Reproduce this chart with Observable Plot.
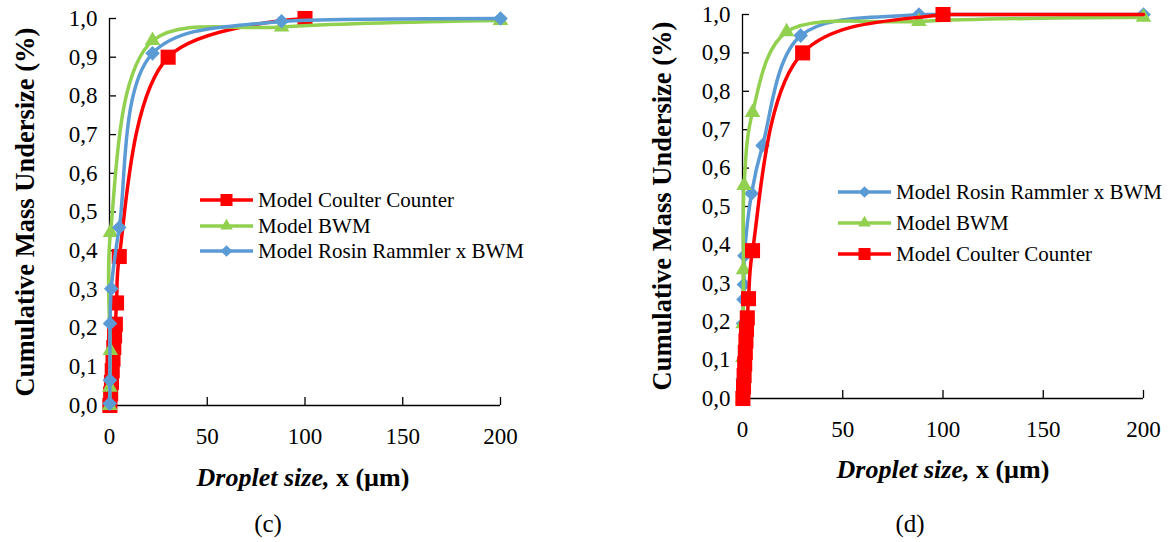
<!DOCTYPE html>
<html>
<head>
<meta charset="utf-8">
<script src="https://cdn.jsdelivr.net/npm/d3@7"></script>
<script src="https://cdn.jsdelivr.net/npm/@observablehq/plot@0.6"></script>
<style>
  html, body { margin: 0; padding: 0; background: #fff; }
  body { width: 1174px; height: 542px; position: relative; overflow: hidden; font-family: 'Liberation Serif', 'Times New Roman', Times, serif; color: #000; }
  .abs { position: absolute; }
  .ytitle { font-weight: bold; font-size: 26.5px; white-space: nowrap; transform: translate(-50%, -50%) rotate(-90deg); }
  .xtitle { font-weight: bold; font-size: 26px; white-space: nowrap; transform: translate(-50%, -50%); }
  .plabel { font-size: 25px; transform: translate(-50%, -50%); }
  .legrow { position: absolute; display: flex; align-items: center; font-size: 21px; white-space: nowrap; }
  .legrow svg { margin-right: 5px; overflow: visible; }
  svg text { font-family: 'Liberation Serif', 'Times New Roman', Times, serif; }
</style>
</head>
<body>
<script>
// ---------- data ----------
const xTicks = [0, 50, 100, 150, 200];
const yTicks = [0, 0.1, 0.2, 0.3, 0.4, 0.5, 0.6, 0.7, 0.8, 0.9, 1.0];

// panel (c)
const c_red_x   = [0.2, 0.6, 1.0, 1.4, 1.8, 2.2, 2.6, 3.0, 3.6, 5, 30, 100];
const c_red_y   = [0.0, 0.03, 0.06, 0.09, 0.12, 0.15, 0.18, 0.21, 0.265, 0.385, 0.9, 1.0];
const c_green_x = [0.1, 0.2, 0.4, 0.5, 22, 88, 200];
const c_green_y = [0.0, 0.047, 0.142, 0.447, 0.943, 0.978, 0.995];
const c_blue_x  = [0.1, 0.2, 0.3, 0.9, 5, 22, 88, 200];
const c_blue_y  = [0.005, 0.065, 0.212, 0.302, 0.46, 0.91, 0.993, 1.0];

// panel (d)
const d_blue_x  = [0.1, 0.3, 0.5, 0.7, 1.0, 4.5, 10, 29, 88, 200];
const d_blue_y  = [0.05, 0.195, 0.258, 0.297, 0.372, 0.534, 0.659, 0.945, 1.0, 1.0];
const d_green_x = [0.1, 0.2, 0.3, 0.5, 0.8, 5, 22, 88, 200];
const d_green_y = [0.0, 0.107, 0.195, 0.335, 0.555, 0.745, 0.955, 0.982, 0.993];
const d_red_x   = [0.2, 0.5, 0.8, 1.1, 1.4, 1.7, 2.0, 2.4, 3.0, 5, 30, 100, 200];
const d_red_y   = [0.0, 0.03, 0.06, 0.09, 0.12, 0.15, 0.18, 0.21, 0.26, 0.385, 0.9, 1.0, 1.0];

const names = {red: "Model Coulter Counter", green: "Model BWM", blue: "Model Rosin Rammler x BWM"};
const colors = {red: "#FF0000", green: "#92D050", blue: "#5B9BD5"};
const symbols = {red: "square", green: "triangle", blue: "diamond2"};
const radii = {red: 8.5, green: 5.8, blue: 6.6};
const FONT = "'Liberation Serif', 'Times New Roman', Times, serif";

const zip = (xs, ys) => xs.map((x, i) => ({x, y: ys[i]}));

// Catmull-Rom smoothing (like a spreadsheet "smoothed line") that never rises above the top of the frame
function smoothCurve(topPx) {
  const c = v => Math.max(v, topPx);
  return (context) => d3.curveCatmullRom({
    moveTo: (x, y) => context.moveTo(x, c(y)),
    lineTo: (x, y) => context.lineTo(x, c(y)),
    bezierCurveTo: (a, b, d, e, x, y) => context.bezierCurveTo(a, c(b), d, c(e), x, c(y)),
    closePath: () => context.closePath()
  });
}

function panel({left, top, width, height, ml, mr, mt, mb, series}) {
  const marks = [
    Plot.ruleX([0], {stroke: "#000", strokeWidth: 1.3}),
    Plot.ruleY([0], {stroke: "#000", strokeWidth: 1.3}),
    Plot.axisX(xTicks, {tickSize: -8, tickFormat: () => "", label: null, stroke: "#000", strokeWidth: 1.3}),
    Plot.axisX(xTicks, {tickSize: 0, tickPadding: 22, label: null, fontSize: 23, fill: "#000"}),
    Plot.axisY(yTicks, {tickSize: -7, tickFormat: () => "", label: null, stroke: "#000", strokeWidth: 1.3}),
    Plot.axisY(yTicks, {tickSize: 0, tickPadding: 12, label: null, fontSize: 23, fill: "#000",
      tickFormat: d => d.toFixed(1).replace(".", ",")})
  ];
  for (const s of series) {
    const data = zip(s.x, s.y);
    marks.push(Plot.line(data, {x: "x", y: "y", stroke: colors[s.key], strokeWidth: 3.5, curve: smoothCurve(mt)}));
    const mdata = s.markerMax != null ? data.filter(d => d.x < s.markerMax) : data;
    marks.push(Plot.dot(mdata, {x: "x", y: "y", symbol: symbols[s.key], r: radii[s.key], fill: colors[s.key], stroke: "none"}));
  }
  const svg = Plot.plot({
    width, height, marginLeft: ml, marginRight: mr, marginTop: mt, marginBottom: mb,
    x: {domain: [0, 200]},
    y: {domain: [0, 1]},
    style: {fontFamily: FONT, fontSize: "23px", color: "#000", background: "transparent", overflow: "visible"},
    marks
  });
  svg.style.position = "absolute";
  svg.style.left = left + "px";
  svg.style.top = top + "px";
  document.body.appendChild(svg);
}

function addDiv(cls, text, x, y, html) {
  const d = document.createElement("div");
  d.className = "abs " + cls;
  if (html) d.innerHTML = html; else d.textContent = text;
  d.style.left = x + "px";
  d.style.top = y + "px";
  document.body.appendChild(d);
}

function legend(keys, x, ys) {
  keys.forEach((k, i) => {
    const row = document.createElement("div");
    row.className = "legrow";
    row.style.left = x + "px";
    row.style.top = (ys[i] - 12) + "px";
    row.style.height = "24px";
    const sym = d3.symbol(d3[{square: "symbolSquare", triangle: "symbolTriangle", diamond2: "symbolDiamond2"}[symbols[k]]],
      Math.PI * Math.pow(radii[k] * 0.8, 2))();
    row.innerHTML = `<svg width="53" height="24"><line x1="0" x2="53" y1="12" y2="12" stroke="${colors[k]}" stroke-width="3.5"/>` +
      `<path d="${sym}" transform="translate(26.5,12)" fill="${colors[k]}"/></svg><span>${names[k]}</span>`;
    document.body.appendChild(row);
  });
}

// ---------- panel (c) ----------
panel({left: 0, top: 0, width: 560, height: 460, ml: 109, mr: 60, mt: 18, mb: 55,
  series: [
    {key: "red", x: c_red_x, y: c_red_y},
    {key: "green", x: c_green_x, y: c_green_y},
    {key: "blue", x: c_blue_x, y: c_blue_y}
  ]});
addDiv("ytitle", "Cumulative Mass Undersize (%)", 25, 212);
addDiv("xtitle", "", 303, 478, "<i>Droplet size,</i> x (µm)");
addDiv("plabel", "(c)", 268, 524);
legend(["red", "green", "blue"], 200, [200, 226, 251]);

// ---------- panel (d) ----------
panel({left: 620, top: 0, width: 554, height: 460, ml: 122, mr: 31, mt: 14, mb: 62,
  series: [
    {key: "blue", x: d_blue_x, y: d_blue_y},
    {key: "green", x: d_green_x, y: d_green_y},
    {key: "red", x: d_red_x, y: d_red_y, markerMax: 200}
  ]});
addDiv("ytitle", "Cumulative Mass Undersize (%)", 662, 206);
addDiv("xtitle", "", 943, 470, "<i>Droplet size,</i> x (µm)");
addDiv("plabel", "(d)", 910, 524);
legend(["blue", "green", "red"], 838, [192, 223, 254]);
</script>
</body>
</html>
